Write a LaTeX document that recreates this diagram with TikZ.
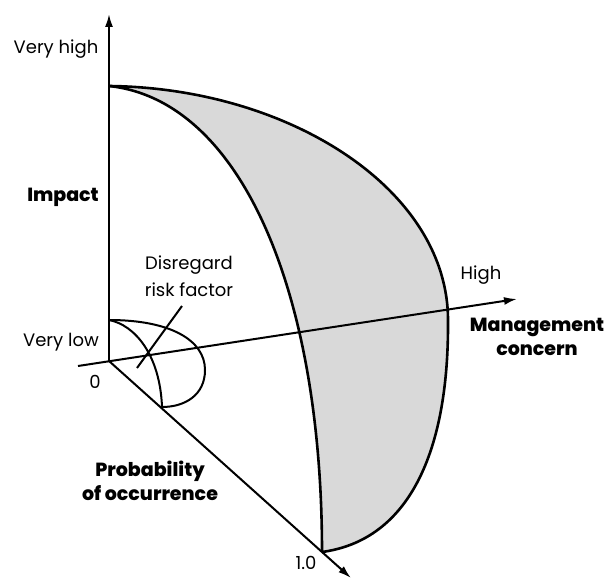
\documentclass[tikz,border=0pt]{standalone}
\usepackage{fontspec}
\setmainfont{Poppins}[BoldFont={Poppins ExtraBold}]
\definecolor{riskShade}{HTML}{D9D9D9}
\usetikzlibrary{arrows.meta}

\begin{document}
\begin{tikzpicture}[x=1pt, y=-1pt,
  axis/.style={line width=2pt, -{Latex[length=13pt, width=8pt]}},
  curve/.style={line width=2.6pt, line join=round},
  lead/.style={line width=2pt},
  lbl/.style={font=\fontsize{18}{27}\selectfont, align=center, inner sep=0pt},
  heavy/.style={font=\fontsize{19}{24}\selectfont\bfseries, align=center, inner sep=0pt}]
  \useasboundingbox (0,0) rectangle (611,578);
  \coordinate (O) at (109,361);
  \coordinate (ztop) at (109,14);
  \coordinate (xl) at (78,366);
  \coordinate (xr) at (517,299);
  \coordinate (ptip) at (351,578);
  \coordinate (top) at (109,86);
  \coordinate (rim) at (448,320);
  \coordinate (bot) at (322,552);
  \coordinate (stop) at (109,320);
  \coordinate (srim) at (205,370);
  \coordinate (sbot) at (162,407);
  \coordinate (lt) at (182,306);
  \coordinate (lb) at (137,368);

  \fill[riskShade] (top) .. controls (290,88) and (448,190) .. (rim)
    .. controls (449,450) and (410,540) .. (bot)
    .. controls (322,290) and (240,100) .. (top) -- cycle;

  \draw[axis] (O) -- (ztop);
  \draw[axis] (xl) -- (xr);
  \draw[axis] (O) -- (ptip);

  \draw[curve] (top) .. controls (290,88) and (448,190) .. (rim)
    .. controls (449,450) and (410,540) .. (bot);
  \draw[curve] (top) .. controls (240,100) and (322,290) .. (bot);

  \draw[lead] (stop) .. controls (170,320) and (205,340) .. (srim)
    .. controls (205,395) and (185,407) .. (sbot);
  \draw[lead] (stop) .. controls (135,325) and (160,355) .. (sbot);
  \draw[lead] (lt) -- (lb);

  \node[lbl] (vh) at (56,49) {Very high};
  \node[heavy] (imp) at (63,197) {Impact};
  \node[lbl] (dis) at (189,276) {Disregard\\risk factor};
  \node[lbl] (high) at (481,275) {High};
  \node[heavy] (mc) at (537,337) {Management\\concern};
  \node[lbl] (vl) at (61,342) {Very low};
  \node[lbl] (zero) at (95,382) {0};
  \node[heavy] (poc) at (150,481) {Probability\\of occurrence};
  \node[lbl] (one) at (306,563) {1.0};
\end{tikzpicture}
\end{document}
